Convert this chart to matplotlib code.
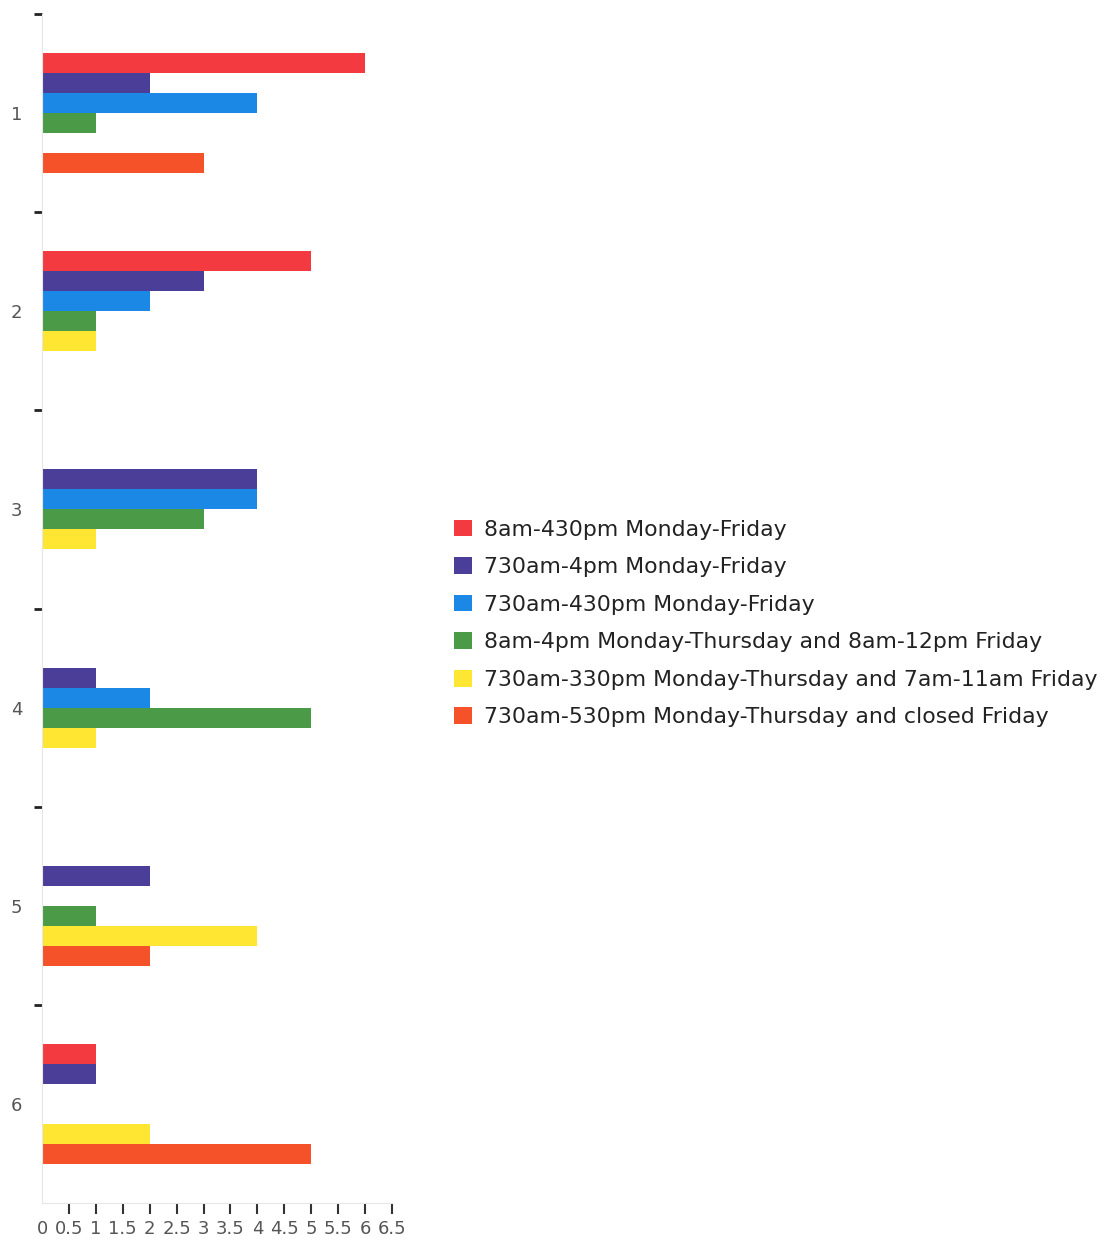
import numpy as np
import matplotlib.pyplot as plt
from matplotlib.ticker import FixedLocator

categories = ["1", "2", "3", "4", "5", "6"]
series_names = [
    "8am-430pm Monday-Friday",
    "730am-4pm Monday-Friday",
    "730am-430pm Monday-Friday",
    "8am-4pm Monday-Thursday and 8am-12pm Friday",
    "730am-330pm Monday-Thursday and 7am-11am Friday",
    "730am-530pm Monday-Thursday and closed Friday",
]
red = [6, 5, 0, 0, 0, 1]
purple = [2, 3, 4, 1, 2, 1]
blue = [4, 2, 4, 2, 0, 0]
green = [1, 1, 3, 5, 1, 0]
yellow = [0, 1, 1, 1, 4, 2]
orange = [3, 0, 0, 0, 2, 5]
colors = ["#f23a40", "#4a3e98", "#1c88e6", "#4b9a47", "#ffe632", "#f5522a"]
x_ticks = np.arange(0, 6.51, 0.5)

series = [red, purple, blue, green, yellow, orange]

fig = plt.figure(figsize=(11.2, 12.42), dpi=100)
ax = fig.add_axes([0.0375, 0.0314, 0.3125, 0.9573])

h = 0.101
y = np.arange(len(categories))
for i, (vals, col, name) in enumerate(zip(series, colors, series_names)):
    ax.barh(y + (i - 2.5) * h, vals, height=h, color=col, label=name)

ax.set_ylim(5.5, -0.5)
ax.set_xlim(0, 6.5)

# category labels, separator dashes between groups
ax.set_yticks(y)
ax.set_yticklabels(categories, fontsize=13, color="#555555")
ax.yaxis.set_minor_locator(FixedLocator(np.arange(-0.5, 5, 1.0)))
ax.tick_params(axis="y", which="major", length=0, pad=14)
ax.tick_params(axis="y", which="minor", length=6, width=2, color="#222222", pad=2)

ax.set_xticks(x_ticks)
ax.set_xticklabels([f"{v:g}" for v in x_ticks], fontsize=13, color="#555555")
ax.tick_params(axis="x", length=8, width=1.5, color="#333333", pad=4)
ax.xaxis.get_major_ticks()[0].tick1line.set_visible(False)

for s in ["top", "right"]:
    ax.spines[s].set_visible(False)
ax.spines["left"].set_color("#e6e6e6")
ax.spines["bottom"].set_color("#e6e6e6")

fig.legend(loc="center left", bbox_to_anchor=(0.396, 0.498), frameon=False,
           fontsize=15.8, handlelength=0.8, handleheight=0.8, handletextpad=0.55,
           labelspacing=0.8, borderpad=0, labelcolor="#222222")

fig.savefig("out.png", dpi=100)
